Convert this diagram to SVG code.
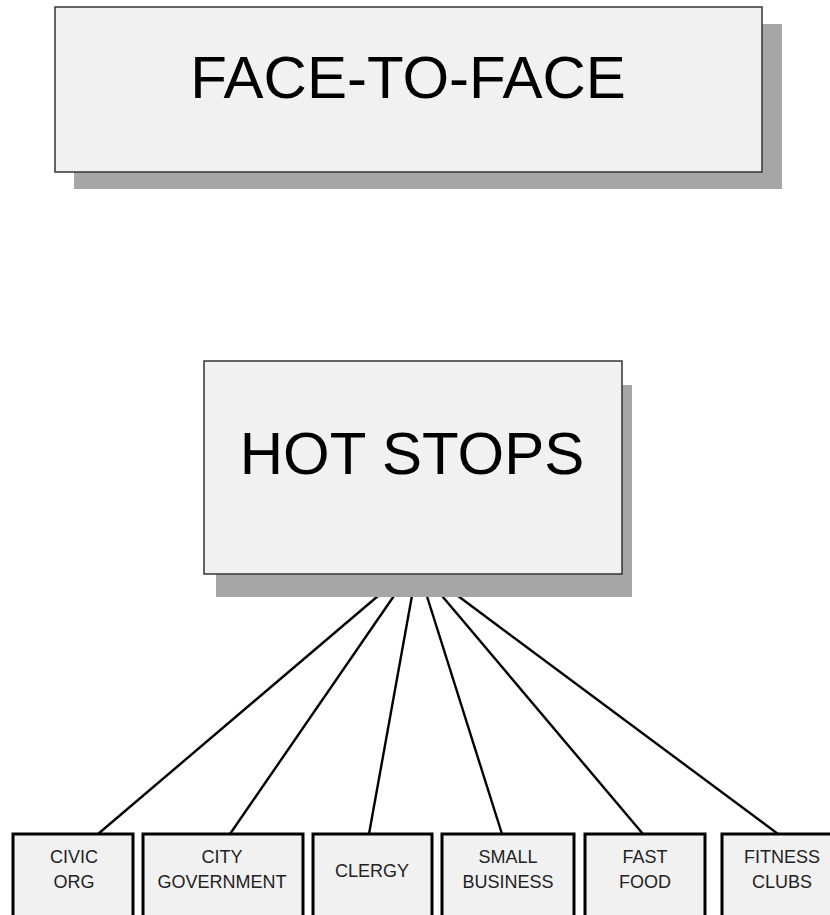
<svg xmlns="http://www.w3.org/2000/svg" width="830" height="915" viewBox="0 0 830 915">
<style>
.shadow{fill:#a6a6a6}
.big{fill:#f1f1f1;stroke:#333;stroke-width:1.5}
.small{fill:#f1f1f1;stroke:#000;stroke-width:3}
.title{font-family:"Liberation Sans",Arial,sans-serif;font-size:60px;fill:#000;text-anchor:middle}
.lbl{font-family:"Liberation Sans",Arial,sans-serif;font-size:18px;fill:#222;text-anchor:middle}
.conn{stroke:#000;stroke-width:2.4;fill:none}
</style>
<rect width="830" height="915" fill="#fff"/>
<g id="face-to-face">
<rect class="shadow" x="74" y="24" width="708" height="165"/>
<rect class="big" x="55" y="7" width="707" height="165"/>
<text class="title" x="408" y="98">FACE-TO-FACE</text>
</g>
<g id="connectors">
<line class="conn" x1="385" y1="590" x2="98" y2="834"/>
<line class="conn" x1="398" y1="590" x2="230" y2="834"/>
<line class="conn" x1="413" y1="590" x2="369" y2="834"/>
<line class="conn" x1="425" y1="590" x2="502" y2="834"/>
<line class="conn" x1="437" y1="590" x2="643" y2="834"/>
<line class="conn" x1="450" y1="590" x2="778" y2="834"/>
</g>
<g id="hot-stops">
<rect class="shadow" x="216" y="385" width="416" height="212"/>
<rect class="big" x="204" y="361" width="418" height="213"/>
<text class="title" x="412" y="474">HOT STOPS</text>
</g>
<g id="civic-org">
<rect class="small" x="13" y="834" width="120" height="100"/>
<text class="lbl" x="74" y="863">CIVIC</text>
<text class="lbl" x="74" y="888">ORG</text>
</g>
<g id="city-government">
<rect class="small" x="143" y="834" width="160" height="100"/>
<text class="lbl" x="222" y="863">CITY</text>
<text class="lbl" x="222" y="888">GOVERNMENT</text>
</g>
<g id="clergy">
<rect class="small" x="313" y="834" width="119" height="100"/>
<text class="lbl" x="372" y="877">CLERGY</text>
</g>
<g id="small-business">
<rect class="small" x="442" y="834" width="132" height="100"/>
<text class="lbl" x="508" y="863">SMALL</text>
<text class="lbl" x="508" y="888">BUSINESS</text>
</g>
<g id="fast-food">
<rect class="small" x="585" y="834" width="120" height="100"/>
<text class="lbl" x="645" y="863">FAST</text>
<text class="lbl" x="645" y="888">FOOD</text>
</g>
<g id="fitness-clubs">
<rect class="small" x="722" y="834" width="120" height="100"/>
<text class="lbl" x="782" y="863">FITNESS</text>
<text class="lbl" x="782" y="888">CLUBS</text>
</g>
</svg>
